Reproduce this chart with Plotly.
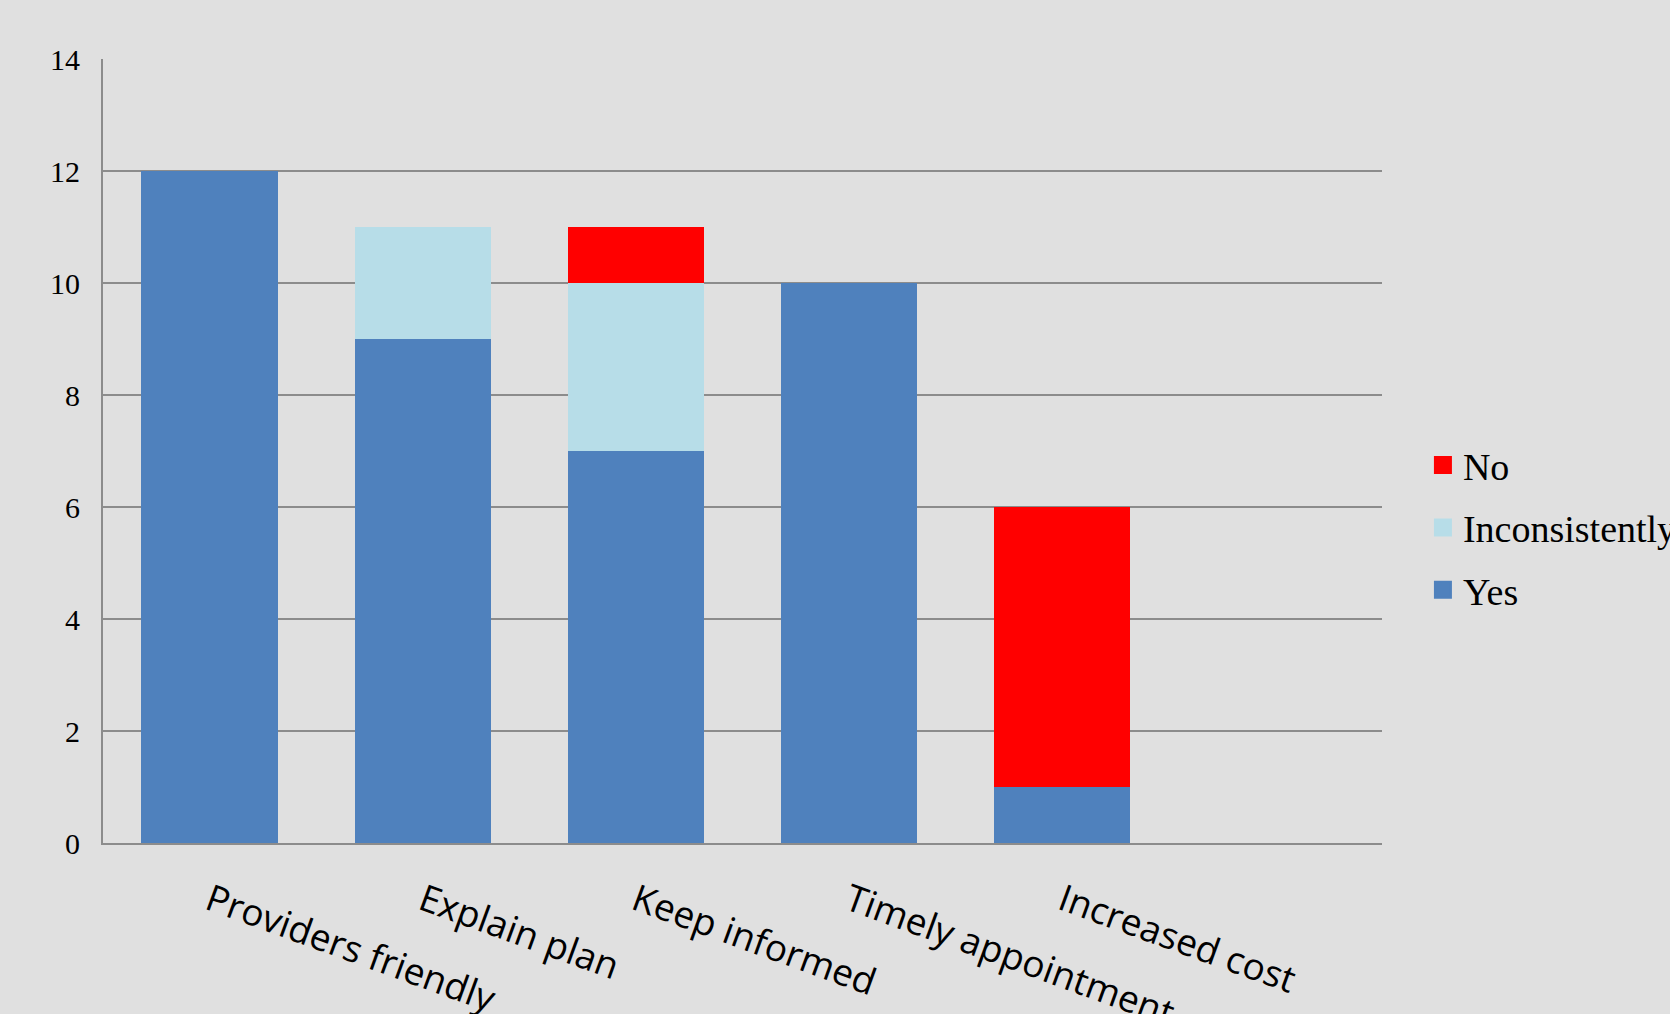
import plotly.graph_objects as go

categories = ["Providers friendly", "Explain plan", "Keep informed", "Timely appointment", "Increased cost", " "]
yes_vals = [12, 9, 7, 10, 1, 0]
incons_vals = [0, 2, 3, 0, 0, 0]
no_vals = [0, 0, 1, 0, 5, 0]
y_ticks = [0, 2, 4, 6, 8, 10, 12, 14]

series = [
    ("Yes", yes_vals, "#4f81bd"),
    ("Inconsistently", incons_vals, "#b7dde8"),
    ("No", no_vals, "#ff0000"),
]

fig = go.Figure()
for name, vals, color in series:
    fig.add_trace(go.Bar(x=categories, y=vals, name=name, marker=dict(color=color, line=dict(width=0)),
                         showlegend=False))
# legend-only entries with larger square symbols (top to bottom: No, Inconsistently, Yes)
for name, vals, color in reversed(series):
    fig.add_trace(go.Scatter(x=[None], y=[None], mode="markers", name=name, legendgroup=name,
                             marker=dict(symbol="square", size=16, color=color, line=dict(width=2, color=color))))

fig.update_layout(
    width=1670, height=1014,
    barmode="stack", bargap=0.36,
    paper_bgcolor="#e0e0e0", plot_bgcolor="#e0e0e0",
    margin=dict(l=103, r=288, t=59, b=171, autoexpand=False),
    legend=dict(x=1.032, xanchor="left", y=0.402, yanchor="middle",
                traceorder="grouped", tracegroupgap=10,
                font=dict(family="Liberation Serif", size=38, color="black"),
                bgcolor="rgba(0,0,0,0)"),
    xaxis=dict(tickangle=20, showline=True, linecolor="#8c8c8c", linewidth=2, showgrid=False,
               ticks="", ticklabelstandoff=20,
               tickfont=dict(family="Open Sans", size=37, color="black")),
    yaxis=dict(range=[0, 14], tickvals=y_ticks, showline=True, linecolor="#8c8c8c", linewidth=2,
               showgrid=True, gridcolor="#8c8c8c", gridwidth=1.5, zeroline=False,
               ticks="", ticklabelstandoff=15,
               tickfont=dict(family="Liberation Serif", size=30, color="black")),
)

fig.write_html("out.html")
